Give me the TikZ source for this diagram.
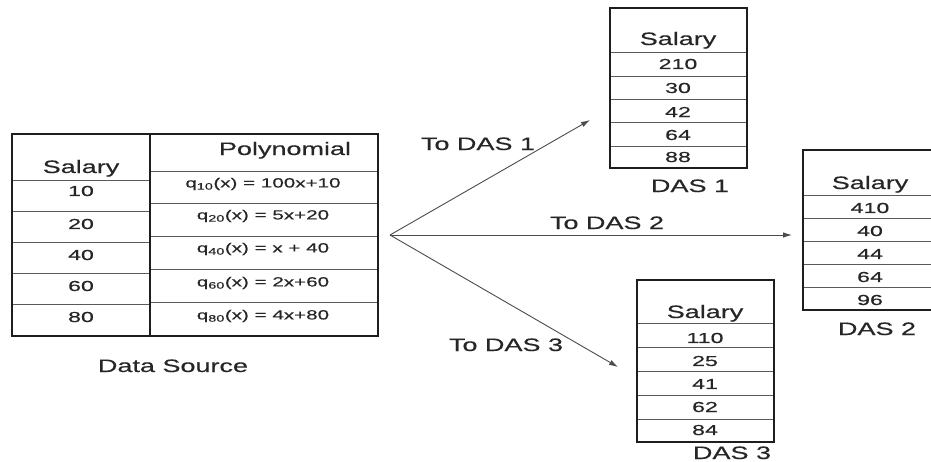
\documentclass[tikz,border=0pt]{standalone}
\usepackage{fontspec}
\setmainfont{Liberation Sans}
\newfontfamily\labfont{Liberation Sans}[FakeStretch=1.5,FakeBold=0.4]
\newfontfamily\numfont{Liberation Sans}[FakeStretch=1.6,FakeBold=0.4]
\newfontfamily\polyfont{Liberation Sans}[FakeStretch=1.55,FakeBold=0.4]
\usetikzlibrary{arrows.meta}
\definecolor{txt}{HTML}{262626}
\definecolor{ln}{HTML}{1E1E1E}
\definecolor{rl}{HTML}{5A5A5A}
\begin{document}
\begin{tikzpicture}[x=1pt,y=-1pt,
  lab/.style={font=\labfont\fontsize{18}{21}\selectfont, text=txt, inner sep=0pt, anchor=base},
  num/.style={font=\numfont\fontsize{14.5}{17}\selectfont, text=txt, inner sep=0pt},
  poly/.style={font=\polyfont\fontsize{13.3}{15}\selectfont, text=txt, inner sep=0pt},
  outer/.style={draw=ln, line width=1.8pt},
  rowline/.style={draw=rl, line width=0.9pt},
  arr/.style={draw=ln!80, line width=0.9pt, -{Latex[length=9pt,width=5.5pt]}}]
\useasboundingbox (0,0) rectangle (931,461);

% ---------- Data source table ----------
\foreach \y in {180,211,242,273,304} \draw[rowline] (12,\y) -- (150,\y);
\foreach \y in {171,203,236,269,302} \draw[rowline] (150,\y) -- (378,\y);
\draw[outer] (12,134) rectangle (378,336);
\draw[outer] (150,134) -- (150,336);
\node[lab] (dsh1) at (81,173) {Salary};
\node[lab] (dsh2) at (285,155) {Polynomial};
\node[num] (ds1) at (81,191) {10};
\node[num] (ds2) at (81,224) {20};
\node[num] (ds3) at (81,255) {40};
\node[num] (ds4) at (81,286) {60};
\node[num] (ds5) at (81,317) {80};
\node[poly] (p1) at (263,184) {q\textsubscript{10}(x) = 100x+10};
\node[poly] (p2) at (263,216) {q\textsubscript{20}(x) = 5x+20};
\node[poly] (p3) at (263,249) {q\textsubscript{40}(x) = x + 40};
\node[poly] (p4) at (263,283) {q\textsubscript{60}(x) = 2x+60};
\node[poly] (p5) at (263,316) {q\textsubscript{80}(x) = 4x+80};
\node[lab] (dslab) at (173,372) {Data Source};

% ---------- DAS 1 ----------
\foreach \y in {52,76,99,122,146} \draw[rowline] (610,\y) -- (747,\y);
\draw[outer] (610,8) rectangle (747,168);
\node[lab] (d1h) at (678,45) {Salary};
\node[num] (d1a) at (678,64) {210};
\node[num] (d1b) at (678,88) {30};
\node[num] (d1c) at (678,112) {42};
\node[num] (d1d) at (678,135) {64};
\node[num] (d1e) at (678,157) {88};
\node[lab] (d1lab) at (690,192) {DAS 1};

% ---------- DAS 2 ----------
\foreach \y in {195,218,241,264,287} \draw[rowline] (803,\y) -- (931,\y);
\draw[outer] (933,150) -- (803,150) -- (803,310) -- (933,310);
\node[lab] (d2h) at (870,189) {Salary};
\node[num] (d2a) at (870,208) {410};
\node[num] (d2b) at (870,231) {40};
\node[num] (d2c) at (870,254) {44};
\node[num] (d2d) at (870,277) {64};
\node[num] (d2e) at (870,300) {96};
\node[lab] (d2lab) at (877,335) {DAS 2};

% ---------- DAS 3 ----------
\foreach \y in {323,347,371,395,419} \draw[rowline] (637,\y) -- (774,\y);
\draw[outer] (637,280) rectangle (774,442);
\node[lab] (d3h) at (705,318) {Salary};
\node[num] (d3a) at (705,338) {110};
\node[num] (d3b) at (705,361) {25};
\node[num] (d3c) at (705,384) {41};
\node[num] (d3d) at (705,407) {62};
\node[num] (d3e) at (705,430) {84};
\node[lab] (d3lab) at (732,459) {DAS 3};

% ---------- arrows ----------
\coordinate (src) at (390,235);
\coordinate (to1) at (590,120);
\coordinate (to2) at (792,235);
\coordinate (to3) at (618,367);
\draw[arr] (src) -- (to1);
\draw[arr] (src) -- (to2);
\draw[arr] (src) -- (to3);
\node[lab] (l1) at (478,150) {To DAS 1};
\node[lab] (l2) at (607,229) {To DAS 2};
\node[lab] (l3) at (506,351) {To DAS 3};
\end{tikzpicture}
\end{document}
